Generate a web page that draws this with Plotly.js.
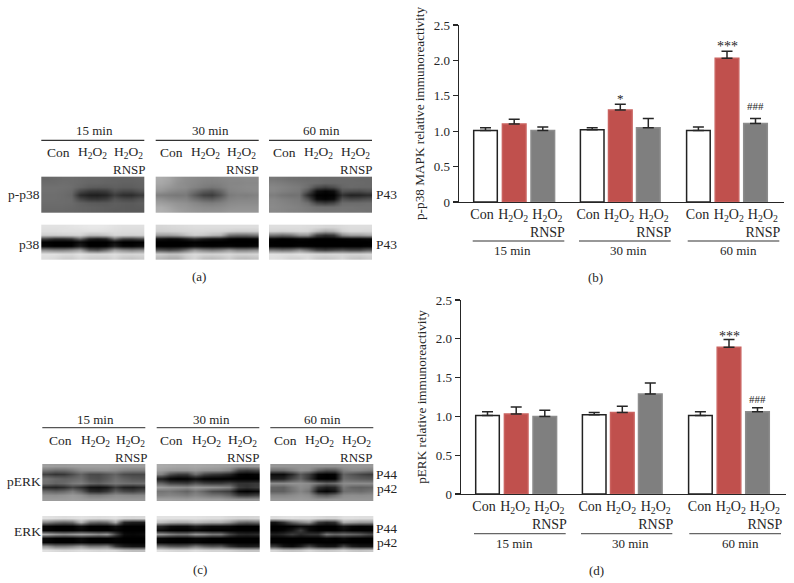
<!DOCTYPE html>
<html>
<head>
<meta charset="utf-8">
<script src="https://cdn.plot.ly/plotly-3.0.1.min.js"></script>
<style>html,body{margin:0;padding:0;background:#fff}</style>
</head>
<body>
<div id="chart" style="width:794px;height:583px"></div>
<script>
// ---- chart values ----
const laneLabels = ['Con', 'H<sub>2</sub>O<sub>2</sub>', 'H<sub>2</sub>O<sub>2</sub><br>RNSP'];
const timeLabels = ['15 min', '30 min', '60 min'];

const p38Con   = [1.01, 1.02, 1.01];
const p38H2O2  = [1.10, 1.30, 2.03];
const p38RNSP  = [1.01, 1.05, 1.11];
const p38ConErr  = [0.04, 0.03, 0.05];
const p38H2O2Err = [0.07, 0.08, 0.10];
const p38RNSPErr = [0.05, 0.13, 0.07];

const erkCon   = [1.01, 1.02, 1.01];
const erkH2O2  = [1.03, 1.05, 1.89];
const erkRNSP  = [1.00, 1.29, 1.06];
const erkConErr  = [0.05, 0.03, 0.05];
const erkH2O2Err = [0.09, 0.08, 0.10];
const erkRNSPErr = [0.08, 0.14, 0.05];

// blot densitometry (0 black, 255 white)
const pp38_15 = [
[104,106,108,108,106,104,104,102,100,100,100,102],
[108,108,110,108,106,102,102,100,100,98,98,100],
[112,112,112,110,102,94,92,92,96,94,94,98],
[112,112,110,106,74,58,56,60,82,72,72,84],
[110,110,108,102,44,32,30,36,62,46,44,58],
[110,110,108,106,72,56,54,60,84,74,72,84],
[108,108,108,106,98,92,90,90,94,92,90,94],
[106,106,106,104,100,98,96,94,94,92,90,92],
[104,104,104,102,100,98,96,94,92,92,90,90]];
const pp38_30 = [
[172,165,150,142,138,134,132,134,136,136,138,138],
[168,160,146,140,136,130,128,130,134,134,136,136],
[160,152,144,140,132,124,118,124,134,136,138,138],
[150,140,134,130,112,92,84,102,130,134,136,138],
[128,124,120,122,92,66,60,84,122,128,126,130],
[146,138,134,132,114,98,92,108,130,134,134,136],
[160,154,148,144,136,128,124,130,138,140,140,140],
[172,164,154,150,144,140,138,140,144,146,146,146],
[176,170,160,154,150,146,146,146,150,150,150,150]];
const pp38_60 = [
[120,116,112,110,108,108,106,106,106,106,104,104],
[128,124,120,116,112,108,104,104,106,106,106,104],
[134,130,126,122,110,78,66,78,102,106,104,104],
[134,128,124,120,84,16,6,14,82,78,76,84],
[126,118,114,114,46,2,0,2,50,34,36,44],
[134,128,124,120,80,12,4,12,82,72,74,82],
[136,132,128,124,112,70,58,70,108,108,108,110],
[138,134,132,128,122,114,112,112,116,116,114,114],
[136,134,130,128,124,120,118,118,118,116,116,114]];
const p38_15 = [
[226,226,226,228,230,232,232,230,226,224,224,224],
[222,222,224,224,224,226,226,224,222,220,220,220],
[206,206,208,210,212,190,190,198,214,212,210,212],
[70,50,50,60,110,40,30,40,120,70,66,80],
[2,0,0,0,14,0,0,0,14,0,0,2],
[6,0,0,2,30,0,0,2,30,6,4,12],
[140,130,130,140,160,90,80,110,160,140,130,140],
[226,226,220,218,226,218,216,218,224,216,214,216],
[222,218,208,206,218,208,206,206,216,202,198,204]];
const p38_30 = [
[214,216,218,220,222,222,222,222,222,222,222,222],
[208,210,212,214,216,216,214,214,210,206,206,208],
[160,160,170,190,206,200,186,180,120,110,110,120],
[20,12,14,30,50,30,20,20,6,2,2,6],
[0,0,0,0,2,0,0,0,0,0,0,0],
[0,0,0,2,10,4,2,4,6,2,2,6],
[80,70,80,110,150,130,120,130,150,130,130,140],
[206,196,196,210,220,214,212,214,218,212,212,214],
[186,176,176,200,214,194,190,196,208,192,190,196]];
const p38_60 = [
[222,222,222,222,220,218,214,214,218,222,222,222],
[214,212,214,216,214,190,170,180,210,218,218,216],
[120,110,120,150,150,70,50,60,140,160,160,170],
[6,0,2,8,6,0,0,0,4,6,6,10],
[0,0,0,0,0,0,0,0,0,0,0,0],
[2,0,0,4,2,0,0,0,0,0,0,2],
[120,110,116,140,110,70,60,70,80,70,70,90],
[226,224,222,226,222,216,214,216,216,212,212,216],
[224,220,212,212,220,204,200,204,214,200,196,206]];
const perk_15 = [
[158,156,156,158,160,160,160,160,158,156,156,156],
[118,108,110,122,140,140,142,144,140,130,126,126],
[64,52,56,76,100,74,72,86,100,76,70,70],
[116,104,98,104,112,82,78,92,112,98,88,86],
[112,100,106,122,128,104,96,110,122,114,110,112],
[42,36,46,70,50,18,14,24,60,34,30,42],
[104,96,104,124,96,44,38,56,96,72,66,80],
[146,144,148,154,146,126,124,132,142,138,134,136],
[156,156,156,158,156,152,152,154,154,152,152,152]];
const perk_30 = [
[170,168,166,166,168,166,164,162,160,152,150,152],
[160,152,150,150,156,148,146,144,132,70,60,70],
[130,80,60,60,110,70,56,50,36,4,0,4],
[30,6,0,2,16,2,0,0,0,0,0,0],
[100,70,66,60,84,66,60,60,70,50,50,56],
[158,150,146,140,156,150,146,140,130,60,50,60],
[116,120,110,100,120,100,76,70,60,6,0,6],
[130,134,130,124,136,126,116,114,100,60,56,66],
[160,160,158,156,160,158,156,156,150,146,144,146]];
const perk_60 = [
[150,150,150,150,150,148,146,146,150,152,152,152],
[110,112,128,146,140,100,80,84,130,138,136,128],
[12,10,40,90,60,6,0,4,100,84,70,60],
[30,34,70,100,56,2,0,2,110,100,92,88],
[140,140,146,146,140,120,100,110,140,140,140,140],
[100,96,120,140,130,50,30,40,120,100,96,100],
[96,96,116,134,116,16,4,20,110,112,108,116],
[134,134,140,146,140,100,90,110,140,142,140,142],
[152,152,152,154,152,146,146,150,150,150,150,150]];
const erk_15 = [
[226,222,220,222,226,222,220,222,226,216,214,216],
[130,110,100,110,180,110,100,110,170,40,30,30],
[6,0,0,0,16,0,0,0,16,0,0,0],
[4,0,0,0,8,0,0,0,6,0,0,0],
[170,150,140,150,160,150,136,150,70,10,6,10],
[8,0,0,0,10,0,0,0,4,0,0,0],
[4,0,0,0,6,0,0,0,2,0,0,0],
[150,120,120,130,150,120,120,130,60,30,20,20],
[224,218,214,216,222,218,214,216,212,196,190,190]];
const erk_30 = [
[226,226,226,226,226,224,222,222,216,212,212,214],
[190,176,170,170,186,176,170,170,150,110,100,110],
[36,14,10,10,30,16,10,10,8,0,0,0],
[10,2,0,0,6,2,0,0,0,0,0,0],
[150,130,116,116,150,140,120,120,70,40,36,40],
[6,2,0,0,6,4,0,0,0,0,0,0],
[2,0,0,0,4,0,0,0,0,0,0,0],
[110,90,84,90,120,96,84,90,50,30,26,30],
[224,218,214,214,222,216,212,212,210,200,196,196]];
const erk_60 = [
[220,224,226,224,224,218,212,212,224,224,222,222],
[20,50,100,130,150,60,40,50,170,160,150,150],
[0,0,2,14,10,0,0,0,20,6,2,4],
[0,4,20,60,10,0,0,0,10,0,0,0],
[30,40,60,40,50,50,120,100,110,100,90,70],
[0,0,0,0,0,0,6,0,10,0,0,0],
[0,0,0,0,0,0,0,0,0,0,0,0],
[60,20,10,30,70,30,20,20,70,30,20,20],
[214,200,196,200,216,204,200,204,214,200,196,200]];

// ---- layout helpers ----
const W = 794, H = 583;
const domX = (a, b) => [a / W, b / W];
const domY = (top, bottom) => [1 - bottom / H, 1 - top / H];
const serif = '"Liberation Serif", "Times New Roman", serif';
const ink = '#262626';

const barSlots = [26.5, 55.2, 83.8, 133.2, 161.3, 189.3, 239.4, 268, 296.5];
const tickSlots = [23, 54.2, 88.4, 129.2, 160, 194.7, 238.5, 269.8, 303.9];
const slots = lane => barSlots.filter((_, i) => i % 3 === lane);

function series(ax, ay, vals, errs, fill, edge) {
  return {
    type: 'bar', xaxis: ax, yaxis: ay, x: slots(fill === '#ffffff' ? 0 : fill === '#c0504d' ? 1 : 2),
    y: vals, width: 23.6,
    marker: {color: fill, line: {color: edge, width: 1.5}},
    error_y: {type: 'data', symmetric: false, array: errs, arrayminus: vals.map(() => 0),
              color: ink, thickness: 1.5, width: 5.5},
    showlegend: false, hoverinfo: 'y'
  };
}

const traces = [
  series('x', 'y', p38Con, p38ConErr, '#ffffff', '#222222'),
  series('x', 'y', p38H2O2, p38H2O2Err, '#c0504d', '#c9625f'),
  series('x', 'y', p38RNSP, p38RNSPErr, '#7f7f7f', '#8c8c8c'),
  series('x2', 'y2', erkCon, erkConErr, '#ffffff', '#222222'),
  series('x2', 'y2', erkH2O2, erkH2O2Err, '#c0504d', '#c9625f'),
  series('x2', 'y2', erkRNSP, erkRNSPErr, '#7f7f7f', '#8c8c8c')
];

// blots: [matrix, left, right, top, bottom] on the page-wide x3/y3 axes
const blots = [
  [pp38_15, 41.3, 144.3, 176.7, 212.7], [pp38_30, 155.7, 258.7, 176.7, 212.7], [pp38_60, 269, 372, 176.7, 212.7],
  [p38_15, 41.3, 144.3, 224.7, 259.3], [p38_30, 155.7, 258.7, 224.7, 259.3], [p38_60, 269, 372, 224.7, 259.3],
  [perk_15, 42.3, 145.3, 464, 501.3], [perk_30, 156.7, 259.3, 464, 501.3], [perk_60, 270.3, 373.3, 464, 501.3],
  [erk_15, 42.3, 145.3, 516, 552], [erk_30, 156.7, 259.3, 516, 552], [erk_60, 270.3, 373.3, 516, 552]
];
blots.forEach(([z, l, r, t, b]) => {
  const dx = (r - l) / z[0].length, dy = (b - t) / z.length;
  traces.push({
    type: 'heatmap', xaxis: 'x3', yaxis: 'y3', z: z,
    x0: l + dx / 2, dx: dx, y0: t + dy / 2, dy: dy,
    zmin: 0, zmax: 255, zsmooth: 'best', showscale: false, hoverinfo: 'skip',
    colorscale: [[0, '#000000'], [1, '#ffffff']]
  });
});

const annotations = [];
const shapes = [];
function txt(s, x, y, size) {
  annotations.push({text: s, xref: 'x3', yref: 'y3', x: x, y: y, xanchor: 'center', yanchor: 'middle',
    showarrow: false, font: {family: serif, size: size || 13, color: ink}});
}
function rule(x0, x1, y, color) {
  shapes.push({type: 'line', xref: 'x3', yref: 'y3', x0: x0, x1: x1, y0: y, y1: y,
    line: {color: color || '#333333', width: 1.2}});
}
function stat(s, xa, ya, x, y, size) {
  annotations.push({text: s, xref: xa, yref: ya, x: x, y: y, xanchor: 'center', yanchor: 'middle',
    showarrow: false, font: {family: serif, size: size, color: ink}});
}

// panel (a) / (c) headers
[[[94.3, 210.7, 321], 130.7, 140.3, [[41.3, 144.3], [155.7, 258.7], [269, 372]],
  [58, 92, 128.7, 171, 205, 241.7, 284.7, 318.7, 355.7], [129, 242.7, 356], 152.7, 169.3],
 [[95, 211.3, 322], 419, 427.7, [[42.3, 145.3], [156.7, 259.3], [270.3, 373.3]],
  [60.7, 95, 130, 171.7, 206, 242.7, 285.3, 319.3, 356.3], [131, 243.3, 356.7], 440, 457]
].forEach(([tx, ty, ly, spans, laneX, rnspX, laneY, rnspY], k) => {
  tx.forEach((x, i) => { txt(timeLabels[i], x, ty); rule(spans[i][0], spans[i][1], ly, k ? '#555555' : '#333333'); });
  laneX.forEach((x, i) => txt(laneLabels[i % 3].split('<br>')[0], x, laneY, 13.5));
  rnspX.forEach(x => txt('RNSP', x, rnspY));
});
txt('p-p38', 24, 194.3, 13.5); txt('p38', 29.3, 244, 13.5);
txt('P43', 386, 194.3, 13.5); txt('P43', 386, 244, 13.5);
txt('pERK', 24.3, 481.7, 13.5); txt('ERK', 27.3, 531.3, 13.5);
txt('P44', 386.7, 474.7, 13.5); txt('p42', 386.7, 488.7, 13.5);
txt('P44', 386.7, 528, 13.5); txt('p42', 386.7, 542, 13.5);
txt('(a)', 199.3, 276.7); txt('(b)', 595.7, 277);
txt('(c)', 200, 569.3); txt('(d)', 596.7, 570);

// panel (b) / (d) group rules and labels
[[472.7, 564.3], [579, 670.7], [687.7, 779.3]].forEach((s, i) => rule(s[0], s[1], 241, '#333333'));
[512, 628.3, 738.7].forEach((x, i) => txt(timeLabels[i], x, 250.7));
[[474, 565.7], [581, 672.3], [689.3, 781]].forEach((s, i) => rule(s[0], s[1], 533.7, '#666666'));
[514, 630, 740.3].forEach((x, i) => txt(timeLabels[i], x, 543));

// significance marks
stat('*', 'x', 'y', barSlots[4], 1.46, 13);
stat('***', 'x', 'y', barSlots[7], 2.19, 14);
stat('###', 'x', 'y', barSlots[8], 1.36, 11);
stat('***', 'x2', 'y2', barSlots[7], 2.03, 14);
stat('###', 'x2', 'y2', barSlots[8], 1.23, 11);

function xAxis(anchor, a, b) {
  return {domain: domX(a, b), anchor: anchor, range: [0, 325], showgrid: false, zeroline: false,
    showline: true, linecolor: ink, linewidth: 1.3, mirror: false,
    ticks: 'outside', ticklen: 2, tickwidth: 0, tickcolor: 'rgba(0,0,0,0)', ticklabelstandoff: -3,
    tickmode: 'array', tickvals: tickSlots, ticktext: [...laneLabels, ...laneLabels, ...laneLabels],
    tickangle: 0, tickfont: {family: serif, size: 14, color: ink}, fixedrange: true};
}
function yAxis(anchor, top, bottom, title) {
  return {domain: domY(top, bottom), anchor: anchor, range: [0, 2.5], showgrid: false, zeroline: false,
    showline: true, linecolor: ink, linewidth: 1.3,
    ticks: 'outside', ticklen: 5, tickwidth: 1.3, tickcolor: ink,
    tickmode: 'array', tickvals: [0, 0.5, 1, 1.5, 2, 2.5], ticktext: ['0', '0.5', '1.0', '1.5', '2.0', '2.5'],
    tickfont: {family: serif, size: 13, color: ink},
    title: {text: title, standoff: 6, font: {family: serif, size: 13.25, color: ink}}, fixedrange: true};
}

const layout = {
  width: W, height: H, margin: {l: 0, r: 0, t: 0, b: 0, pad: 0},
  paper_bgcolor: '#ffffff', plot_bgcolor: 'rgba(0,0,0,0)', barmode: 'overlay', showlegend: false,
  xaxis: xAxis('y', 459, 784),
  yaxis: yAxis('x', 25, 202, 'p-p38 MAPK relative immunoreactivity'),
  xaxis2: xAxis('y2', 461, 786),
  yaxis2: yAxis('x2', 300, 494, 'pERK relative immunoreactivity'),
  xaxis3: {domain: [0, 1], anchor: 'y3', range: [0, W], visible: false, fixedrange: true},
  yaxis3: {domain: [0, 1], anchor: 'x3', range: [H, 0], visible: false, fixedrange: true},
  annotations: annotations, shapes: shapes
};

Plotly.newPlot('chart', traces, layout, {displayModeBar: false, staticPlot: true});
</script>
</body>
</html>
